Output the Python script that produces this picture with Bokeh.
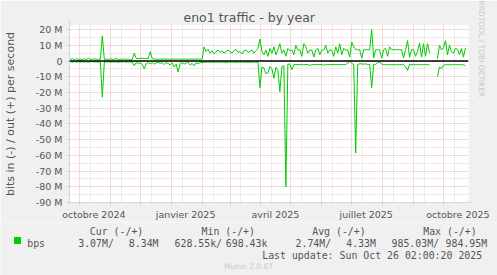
import numpy as np
import pandas as pd
from bokeh.plotting import figure
from bokeh.layouts import column
from bokeh.models import FixedTicker, Span, Range1d, ColumnDataSource, Title, Arrow, NormalHead
from bokeh.core.properties import value
from bokeh.embed import file_html
from bokeh.resources import INLINE

# ---------------- data ----------------
title_text = "eno1 traffic - by year"
y_label_text = "bits in (-) / out (+) per second"
series_name = "bps"
start_date = "2024-09-22"
step_days = 2

# out (+) traffic, Mbit/s, one value every 2 days
out_mbps = [
    1.0, 1.5, 0.8, 1.6, 1.0, 1.2, 0.9, 1.4, 1.0, 1.8, 1.2, 1.0, 1.5, 0.9, 1.2, 1.0,
    16.0, 1.0, 1.3, 0.9, 1.5, 1.1, 1.0, 1.6, 0.9, 1.2, 1.0, 1.4, 1.0, 1.3, 0.9, 1.0,
    5.0, 1.6, 1.6, 1.6, 1.7, 1.6, 1.6, 1.6, 6.0, 1.6,
    1.2, 1.2, 1.2, 1.2, 1.2, 1.2, 1.2, 1.2, 1.2, 1.2, 1.2, 1.2, 1.2, 1.2, 1.2, 1.2,
    1.2, 1.2, 1.2, 1.2, 1.2, 1.2, 1.2, 1.2, 1.2,
    9.0,
    6.0, 7.5, 5.0, 6.5, 4.5, 6.0, 7.0, 5.5, 6.5, 5.0, 6.0, 7.0, 6.0, 5.0, 6.5, 7.5,
    5.5, 6.0, 4.5, 6.5, 7.0, 5.5, 6.0, 7.0, 5.0, 6.5, 8.0,
    14.0,
    6.0, 4.0, 7.0, 3.0, 8.0, 5.0, 9.0, 4.0, 7.0, 11.0, 5.0, 7.0, 3.0, 8.0, 6.5, 7.0,
    4.0, 10.0, 7.0, 7.0, 3.0, 11.0, 9.0, 5.0, 7.0, 7.0, 2.5, 7.0, 8.0, 4.0, 7.0, 7.0,
    10.0, 5.0, 7.0, 7.0, 3.0, 9.0, 5.0, 11.0, 4.0, 8.0, 7.0, 7.0, 2.5, 12.0, 9.0, 7.2,
    7.2,
    7.2, 1.8, 7.2, 7.2, 7.2, 7.2, 20.0, 2.0, 7.2, 7.2, 7.2, 1.8, 7.2, 8.0, 3.0, 9.0,
    7.2, 7.2, 7.2, 7.2, 7.2, 7.2, 2.0, 7.2, 13.0, 2.5, 7.2, 7.2, 3.0, 6.0, 11.5, 2.5,
    11.0, 3.0, 11.0, 5.0,
    np.nan, np.nan, np.nan,
    1.5, 10.0, 7.0, 8.5, 13.0, 4.0, 10.0, 6.0, 5.0, 8.0, 7.5, 4.0, 8.0, 2.5, 8.34,
]

# in (-) traffic, Mbit/s (drawn negative)
in_mbps = [
    -0.5, -0.7, -0.4, -0.6, -0.5, -0.8, -0.4, -0.6, -0.5, -0.7, -0.5, -0.4, -0.6, -0.5, -0.7, -0.5,
    -23.0, -0.5, -0.6, -0.4, -0.7, -0.5, -0.6, -0.5, -0.8, -0.5, -0.6, -0.4, -0.7, -0.5, -0.6, -0.8,
    -3.0, -1.0, -1.5, -1.2, -2.0, -5.0,
    -1.5, -1.0, -1.8, -1.0, -2.0, -1.2, -0.8, -1.5, -1.0, -2.2, -1.0, -1.5, -2.5, -1.2, -3.8, -2.0,
    -7.0, -1.5, -1.0, -2.0, -1.2, -0.8, -2.5, -1.5, -3.0, -1.0, -1.8, -0.8, -1.0,
    -0.7, -0.8, -0.6, -0.7, -0.7, -0.8, -0.7, -0.6, -0.7, -0.7, -0.7, -1.2, -0.7, -0.7, -0.6, -0.7,
    -0.8, -0.7, -0.7, -0.6, -0.7, -0.7, -0.8, -0.7, -0.7, -0.6, -0.7, -0.7,
    -17.0, -3.8, -4.5, -8.0, -7.5, -3.5, -5.0, -11.0, -4.0, -6.0, -19.5, -3.5, -3.0, -80.0, -2.0, -2.0,
    -5.5, -2.2, -2.2, -2.3, -2.2, -2.5, -2.2, -2.3, -2.2, -2.8, -2.2, -2.3, -2.2, -2.3, -2.2, -2.3,
    -2.6, -2.2, -2.3, -2.2, -2.3, -2.2, -2.3, -2.2, -2.3, -2.2, -2.3, -2.2, -1.2, -0.2, -1.5, -2.2,
    -58.6, -2.2,
    -1.8, -1.8, -2.0, -1.8, -2.2, -2.2, -17.0, -2.0, -2.2, -1.0, -0.6, -2.0, -2.3, -2.3, -2.3, -2.3,
    -2.3, -2.3, -2.3, -2.3, -2.3, -2.3, -2.3, -3.5, -6.0, -2.0,
    -2.3, -2.3, -2.3, -2.3, -2.3, -2.3, -2.3, -2.3, -2.3, -2.3,
    np.nan, np.nan, np.nan,
    -10.0, -3.8, -4.8, -2.8, -2.3, -2.3, -2.4, -2.3, -2.3, -2.2, -2.3, -2.3, -2.4, -2.3, -3.07,
]

y_ticks = [-90, -80, -70, -60, -50, -40, -30, -20, -10, 0, 10, 20]
y_tick_labels = ["-90 M", "-80 M", "-70 M", "-60 M", "-50 M", "-40 M", "-30 M",
                 "-20 M", "-10 M", "0", "10 M", "20 M"]
y_minor = [-85, -75, -65, -55, -45, -35, -25, -15, -5, 5, 15]

x_tick_dates = ["2024-10-15 12:00", "2025-01-15 12:00", "2025-04-15 12:00",
                "2025-07-15 12:00", "2025-10-15 12:00"]
x_tick_labels = ["octobre 2024", "janvier 2025", "avril 2025", "juillet 2025", "octobre 2025"]
month_starts = ["2024-10-01", "2024-11-01", "2024-12-01", "2025-01-01", "2025-02-01",
                "2025-03-01", "2025-04-01", "2025-05-01", "2025-06-01", "2025-07-01",
                "2025-08-01", "2025-09-01", "2025-10-01"]
minor_dates = ["2024-10-12", "2024-11-12", "2024-12-12", "2025-01-12", "2025-02-12",
               "2025-03-12", "2025-04-12", "2025-05-12", "2025-06-12", "2025-07-12",
               "2025-08-12", "2025-09-12", "2025-10-12"]

x_start = "2024-09-21 02:00"
x_end = "2025-10-26 02:00"

legend_headers = ["Cur (-/+)", "Min (-/+)", "Avg (-/+)", "Max (-/+)"]
legend_values = ["3.07M/", "8.34M", "628.55k/", "698.43k", "2.74M/", "4.33M", "985.03M/", "984.95M"]
last_update = "Last update: Sun Oct 26 02:00:20 2025"
munin_version = "Munin 2.0.67"
rrd_credit = "RRDTOOL / TOBI OETIKER"

# ---------------- helpers ----------------
def ms(s):
    return int(pd.Timestamp(s).value // 10**6)

dates = pd.Timestamp(start_date) + pd.to_timedelta(np.arange(len(out_mbps)) * step_days, unit="D")
src = ColumnDataSource(dict(x=dates, out=np.array(out_mbps, dtype=float),
                            inn=np.array(in_mbps, dtype=float)))

FONT = "DejaVu Sans"
MONO = "DejaVu Sans Mono"
TXT = "#555555"
GREEN = "#00CC00"
AXIS = "#CFD6F8"
MGRID = "#EBB0B0"
GRID = "#D8D8D8"
BACK = "#F0F0F0"

MAIN_H = 222
p = figure(width=497, height=MAIN_H, x_axis_type="datetime",
           x_range=Range1d(ms(x_start), ms(x_end)), y_range=Range1d(-90, 22.6),
           output_backend="svg", toolbar_location=None, title_location=None,
           min_border_left=67, min_border_right=29, min_border_top=25,
           min_border_bottom=MAIN_H - 203,
           background_fill_color="white", border_fill_color=BACK,
           outline_line_color=None)
p.frame_align = False

# title and right-hand credit
p.add_layout(Title(text=title_text, align="left", offset=114, text_font=FONT,
                   text_font_size="12.5px", text_color=TXT, text_font_style="normal",
                   standoff=1), "above")
p.add_layout(Title(text=rrd_credit, align="left", offset=-25, text_font=FONT,
                   text_font_size="7.5px", text_color="#C8C8C8", text_font_style="normal",
                   standoff=16), "right")

# grids
p.xgrid.ticker = FixedTicker(ticks=[ms(d) for d in month_starts], minor_ticks=[ms(d) for d in minor_dates])
p.xgrid.grid_line_color = MGRID
p.xgrid.grid_line_dash = "1 1"
p.xgrid.minor_grid_line_color = GRID
p.xgrid.minor_grid_line_dash = "1 1"
p.ygrid.ticker = FixedTicker(ticks=y_ticks, minor_ticks=y_minor)
p.ygrid.grid_line_color = MGRID
p.ygrid.grid_line_dash = "1 1"
p.ygrid.minor_grid_line_color = GRID
p.ygrid.minor_grid_line_dash = "1 1"

# x axis
xa = p.xaxis[0]
xa.ticker = FixedTicker(ticks=[ms(d) for d in x_tick_dates], minor_ticks=[ms(d) for d in month_starts])
xa.major_label_overrides = {ms(d): lab for d, lab in zip(x_tick_dates, x_tick_labels)}
xa.major_tick_line_color = None
xa.major_tick_out = 0
xa.major_tick_in = 0
xa.minor_tick_line_color = MGRID
xa.minor_tick_out = 2
xa.minor_tick_in = 0
xa.axis_line_color = AXIS
xa.major_label_text_font = FONT
xa.major_label_text_font_size = "9.5px"
xa.major_label_text_color = TXT
xa.major_label_standoff = 4

# y axis
ya = p.yaxis[0]
ya.ticker = FixedTicker(ticks=y_ticks, minor_ticks=y_minor)
ya.major_label_overrides = {t: lab for t, lab in zip(y_ticks, y_tick_labels)}
ya.major_tick_line_color = MGRID
ya.major_tick_out = 2
ya.major_tick_in = 0
ya.minor_tick_line_color = GRID
ya.minor_tick_out = 2
ya.minor_tick_in = 0
ya.axis_line_color = AXIS
ya.major_label_text_font = FONT
ya.major_label_text_font_size = "9.5px"
ya.major_label_text_color = TXT
ya.major_label_standoff = 5
ya.axis_label = y_label_text
ya.axis_label_text_font = FONT
ya.axis_label_text_font_size = "11px"
ya.axis_label_text_font_style = "normal"
ya.axis_label_text_color = TXT
ya.axis_label_standoff = 16

# data
p.line("x", "out", source=src, line_color=GREEN, line_width=1)
p.line("x", "inn", source=src, line_color=GREEN, line_width=1)
p.add_layout(Span(location=0, dimension="width", line_color="black", line_width=1.5))

# axis arrows
p.add_layout(Arrow(end=NormalHead(size=5, fill_color=AXIS, line_color=AXIS),
                   x_start=ms(x_start), y_start=22.6, x_end=ms(x_start), y_end=25.8,
                   line_color=AXIS, line_width=1))
p.add_layout(Arrow(end=NormalHead(size=5, fill_color=AXIS, line_color=AXIS),
                   x_start=ms(x_end), y_start=-90, x_end=ms(x_end) + 5 * 86400000, y_end=-90,
                   line_color=AXIS, line_width=1))

# ---------------- legend / footer strip (pixel coordinates) ----------------
LEG_H = 275 - MAIN_H
q = figure(width=497, height=LEG_H, x_range=Range1d(0, 497), y_range=Range1d(275, MAIN_H),
           output_backend="svg", toolbar_location=None, title_location=None,
           x_axis_location=None, y_axis_location=None, min_border=0,
           min_border_left=0, min_border_right=0, min_border_top=0, min_border_bottom=0,
           background_fill_color=BACK, border_fill_color=BACK, outline_line_color=None)
q.frame_align = False
q.grid.visible = False

head_x = [89.3, 201, 311.7, 422.7]
q.text(x=head_x, y=[230.5] * 4, text=legend_headers, text_font=value(MONO),
       text_font_size="9.9px", text_color=TXT, text_baseline="alphabetic")
val_x = [77.7, 128.3, 174, 225.3, 295, 345.7, 391, 445]
q.text(x=[26.7] + val_x, y=[243] * 9, text=[series_name] + legend_values, text_font=value(MONO),
       text_font_size="9.9px", text_color=TXT, text_baseline="alphabetic")
q.text(x=[261.7], y=[254.5], text=[last_update], text_font=value(MONO),
       text_font_size="9.9px", text_color=TXT, text_baseline="alphabetic")
q.text(x=[248], y=[266], text=[munin_version], text_font=value(FONT),
       text_font_size="7.5px", text_color="#C8C8C8", text_baseline="alphabetic", text_align="center")
q.quad(left=[14], right=[20], top=[237], bottom=[243], fill_color=GREEN, line_color=GREEN)

layout = column(p, q, spacing=0)
open("out.html", "w").write(file_html(layout, INLINE))
